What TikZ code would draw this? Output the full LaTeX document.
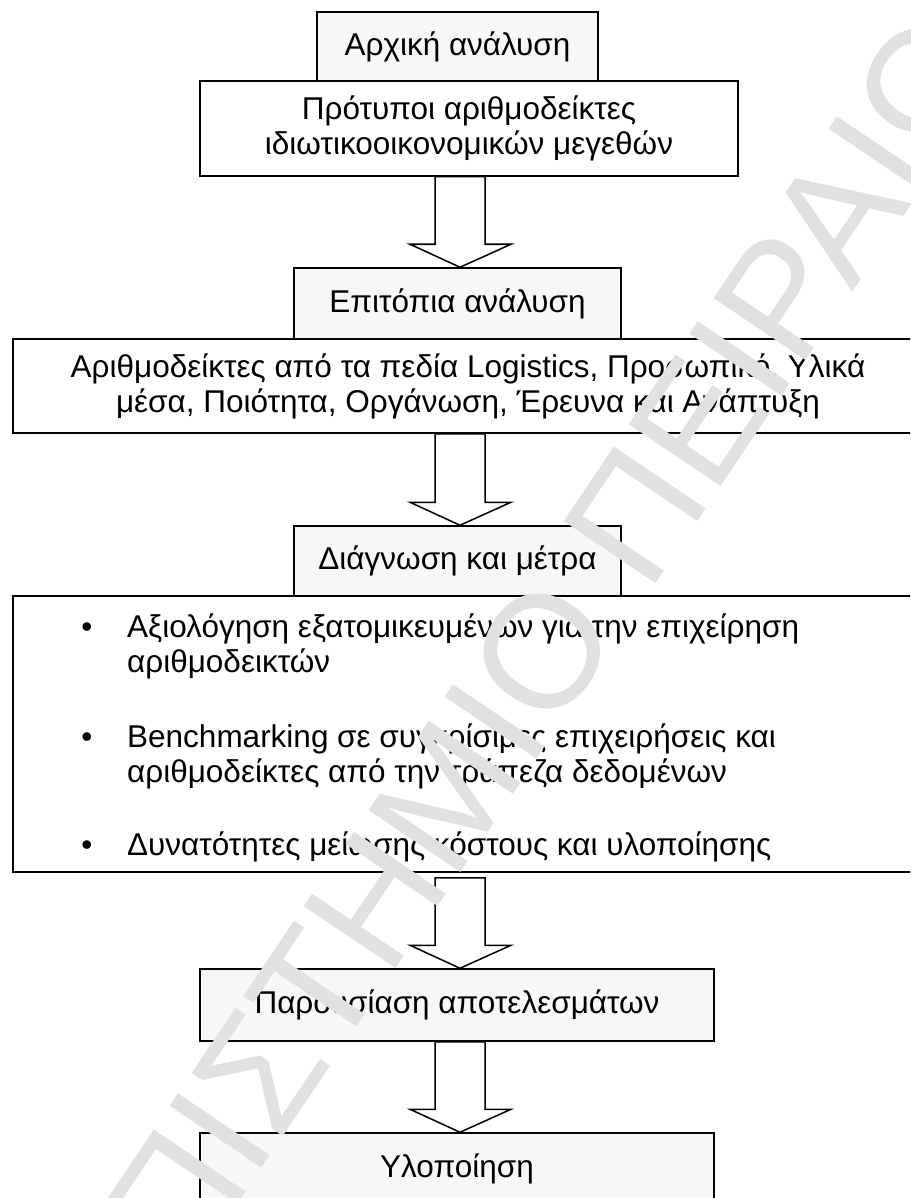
\documentclass[tikz,border=0pt]{standalone}
\usepackage{fontspec}
\setmainfont{Liberation Sans}
\usetikzlibrary{calc}
\definecolor{boxgray}{HTML}{F7F7F7}
\definecolor{markgray}{HTML}{E1E1E1}
\begin{document}
\begin{tikzpicture}[x=1pt,y=-1pt,
  every node/.style={font=\fontsize{31.5}{35}\selectfont},
  box/.style={draw=black, line width=1.5pt, inner sep=0pt, align=center},
  graybox/.style={box, fill=boxgray},
  whitebox/.style={box, fill=white},
  blockarrow/.style={draw=black, line width=1.5pt, fill=white, line join=miter},
  listtext/.style={anchor=base west, inner sep=0pt, align=left},
  bulletmark/.style={anchor=base, inner sep=0pt},
  watermark/.style={text=markgray, inner sep=0pt, anchor=base west,
    font=\fontsize{161}{161}\selectfont}]
\useasboundingbox (0,0) rectangle (910,1198);
\clip (0,0) rectangle (910,1198);
\fill[white] (0,0) rectangle (910,1198);

% axis of the block arrows
\coordinate (axis) at (460,0);

% boxes
\node[graybox, minimum width=281pt, minimum height=69pt] (start) at (457.5,46.5) {Αρχική ανάλυση};
\node[whitebox, minimum width=538pt, minimum height=95pt] (ratios) at (469,128.5)
  {Πρότυποι αριθμοδείκτες\\ιδιωτικοοικονομικών μεγεθών};
\node[graybox, minimum width=327pt, minimum height=71pt] (onsite) at (457.5,303.5) {Επιτόπια ανάλυση};
\node[whitebox, minimum width=910pt, minimum height=94pt] (fields) at (468,386)
  {Αριθμοδείκτες από τα πεδία Logistics, Προσωπικό, Υλικά\\μέσα, Ποιότητα, Οργάνωση, Έρευνα και Ανάπτυξη};
\node[graybox, minimum width=327pt, minimum height=70pt] (diag) at (457.5,561) {Διάγνωση και μέτρα};
\node[whitebox, minimum width=910pt, minimum height=276pt] (measures) at (468,734) {};
\node[graybox, minimum width=514pt, minimum height=72pt] (present) at (457,1005) {Παρουσίαση αποτελεσμάτων};
\node[graybox, minimum width=514pt, minimum height=72pt] (impl) at (457,1169) {Υλοποίηση};

% bullet list inside the measures box (text nodes sit on their last baseline)
\node[bulletmark] (b1) at (87,637) {•};
\node[listtext] (t1) at (127,672) {Αξιολόγηση εξατομικευμένων για την επιχείρηση\\αριθμοδεικτών};
\node[bulletmark] (b2) at (87,747) {•};
\node[listtext] (t2) at (127,782) {Benchmarking σε συγκρίσιμες επιχειρήσεις και\\αριθμοδείκτες από την τράπεζα δεδομένων};
\node[bulletmark] (b3) at (87,855) {•};
\node[listtext] (t3) at (127,855) {Δυνατότητες μείωσης κόστους και υλοποίησης};

% block arrows
\newcommand{\blockarrowfrom}[3]{%
  \draw[blockarrow]
    ($(axis |- #1.south)+(-25,#3)$) -- ($(axis |- #2.north)+(-25,-23)$)
    -- ($(axis |- #2.north)+(-50,-23)$) -- (axis |- #2.north)
    -- ($(axis |- #2.north)+(51,-23)$) -- ($(axis |- #2.north)+(25,-23)$)
    -- ($(axis |- #1.south)+(25,#3)$) -- cycle;}
\blockarrowfrom{ratios}{onsite}{0}
\blockarrowfrom{fields}{diag}{0}
\blockarrowfrom{measures}{present}{5}
\blockarrowfrom{present}{impl}{0}

% watermark over the page
\node[watermark, rotate=56] (mark) at (-62,1648) {ΠΑΝΕΠΙΣΤΗΜΙΟ ΠΕΙΡΑΙΩΣ};
\end{tikzpicture}
\end{document}
